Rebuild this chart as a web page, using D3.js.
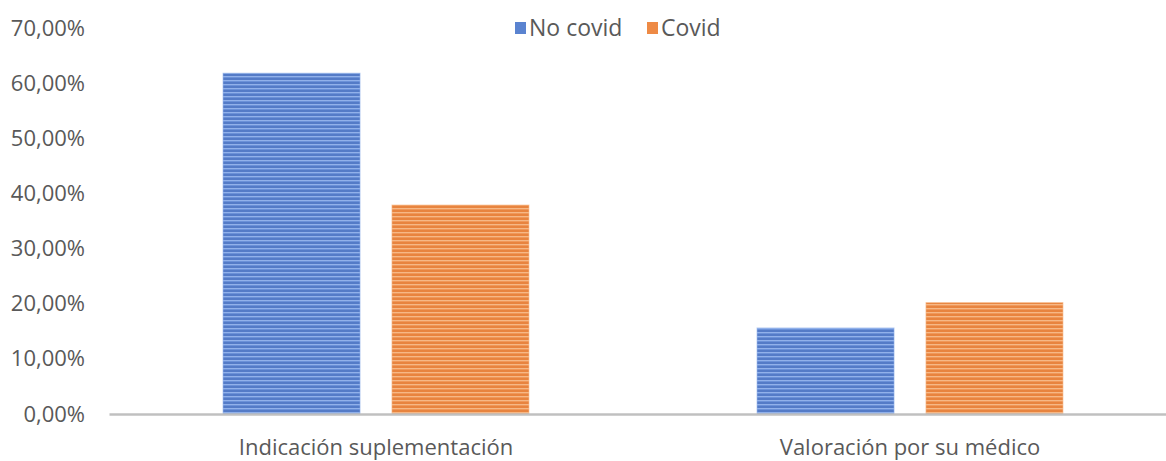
<!DOCTYPE html>
<html><head><meta charset="utf-8">
<script src="https://cdn.jsdelivr.net/npm/d3@7"></script>
<style>body{margin:0;background:#fff;} svg{display:block;font-family:"Open Sans",sans-serif;}</style>
</head><body>
<svg id="c" width="1166" height="461"></svg>
<script>
const categories = ["Indicación suplementación", "Valoración por su médico"];
const seriesNames = ["No covid", "Covid"];
const noCovid = [0.618, 0.156];
const covid = [0.379, 0.202];
const yTicks = [0, 0.1, 0.2, 0.3, 0.4, 0.5, 0.6, 0.7];

const svg = d3.select("#c");
const colors = {"No covid": ["#5a83d0", "#91b1ea", "#4a70bb"], "Covid": ["#ee8a45", "#f6b886", "#e07a35"]};

const defs = svg.append("defs");
seriesNames.forEach((s, i) => {
  const p = defs.append("pattern").attr("id", "pat" + i).attr("patternUnits", "userSpaceOnUse")
    .attr("width", 10).attr("height", 4);
  p.append("rect").attr("width", 10).attr("height", 4).attr("fill", colors[s][0]);
  p.append("rect").attr("y", 0).attr("width", 10).attr("height", 1.3).attr("fill", colors[s][1]);
  p.append("rect").attr("y", 2.6).attr("width", 10).attr("height", 0.8).attr("fill", colors[s][2]);
});

const y = d3.scaleLinear().domain([0, 0.7]).range([414, 28]);
const x0 = d3.scaleBand().domain(categories).range([109, 1177]).padding(0);
const x1 = d3.scaleBand().domain(seriesNames).range([0, x0.bandwidth()]).paddingInner(0.189).paddingOuter(0.675);

const fmt = v => d3.format(".2f")(v * 100).replace(".", ",") + "%";

// y axis labels
const yAxis = d3.axisLeft(y).tickValues(yTicks).tickFormat(fmt).tickSize(0).tickPadding(0);
const ya = svg.append("g").attr("transform", "translate(85,0)").call(yAxis);
ya.select(".domain").remove();
ya.selectAll("text").attr("fill", "#595959").style("font-size", "22px").style("font-family", "'Open Sans',sans-serif");

// bars
const data = categories.map((c, i) => ({cat: c, vals: [{s: "No covid", v: noCovid[i], k: 0}, {s: "Covid", v: covid[i], k: 1}]}));
const g = svg.append("g");
g.selectAll("g.cat").data(data).join("g").attr("class", "cat")
  .attr("transform", d => `translate(${x0(d.cat)},0)`)
  .selectAll("rect").data(d => d.vals).join("rect")
  .attr("x", d => x1(d.s)).attr("width", x1.bandwidth())
  .attr("y", d => y(d.v)).attr("height", d => y(0) - y(d.v))
  .attr("fill", d => `url(#pat${d.k})`)
  .attr("stroke", d => colors[d.s][1]).attr("stroke-width", 1).attr("stroke-opacity", 0.6);

// x axis
const xAxis = d3.axisBottom(x0).tickSize(0).tickPadding(25);
const xa = svg.append("g").attr("transform", `translate(0,${y(0)})`).call(xAxis);
xa.select(".domain").attr("stroke", "#c0c0c0").attr("stroke-width", 2.5);
xa.selectAll("text").attr("fill", "#595959").style("font-size", "22px").style("font-family", "'Open Sans',sans-serif");

// legend
const legendX = [515, 647];
const lg = svg.append("g");
seriesNames.forEach((s, i) => {
  lg.append("rect").attr("x", legendX[i]).attr("y", 22).attr("width", 11).attr("height", 12).attr("fill", colors[s][0]);
  lg.append("text").attr("x", legendX[i] + 14).attr("y", 28).attr("dy", "0.35em")
    .attr("fill", "#595959").style("font-size", "23px").text(s);
});
</script>
</body></html>
